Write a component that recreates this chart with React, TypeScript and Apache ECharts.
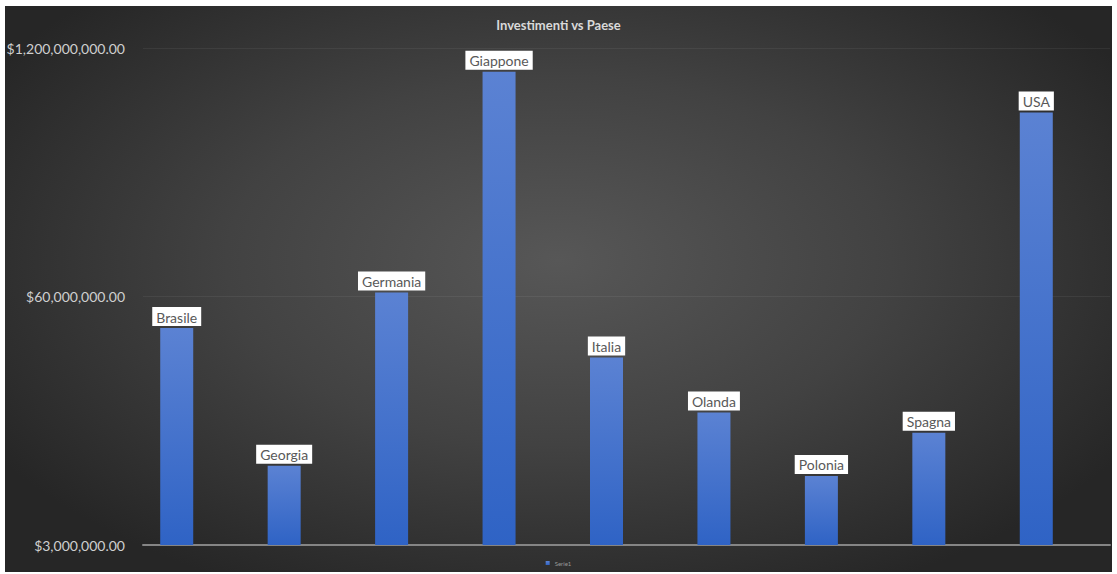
import React, { useEffect, useRef } from "react";
import * as echarts from "echarts";

const categories = ["Brasile", "Georgia", "Germania", "Giappone", "Italia", "Olanda", "Polonia", "Spagna", "USA"];
const values = [41000000, 7800000, 63000000, 900000000, 28800000, 14800000, 6900000, 11600000, 552000000];
const tickLabels = ["$3,000,000.00", "$60,000,000.00", "$1,200,000,000.00"];
const axisMin = 3000000;
const axisMax = 1200000000;
const seriesName = "Serie1";
const title = "Investimenti vs Paese";

export default function App() {
  const ref = useRef<HTMLDivElement>(null);
  useEffect(() => {
    if (!ref.current) return;
    const chart = echarts.init(ref.current, undefined, { renderer: "svg" });
    const font = "Lato, 'Open Sans', sans-serif";
    chart.setOption({
      animation: false,
      backgroundColor: "transparent",
      title: {
        text: title,
        left: "center",
        top: 13,
        textStyle: { color: "#d9d9d9", fontSize: 13, fontWeight: "bold", fontFamily: font },
      },
      legend: {
        bottom: 3,
        left: "center",
        itemWidth: 4,
        itemHeight: 4,
        icon: "rect",
        itemGap: 4,
        textStyle: { color: "#9a9a9a", fontSize: 6, fontFamily: font },
        data: [seriesName],
      },
      grid: [
        { left: 123, right: 27, top: 48, bottom: 29 },
        { left: 143, right: 7, top: 48, bottom: 29 },
      ],
      xAxis: [
        {
          type: "category",
          gridIndex: 0,
          data: categories,
          axisLine: { show: false },
          axisTick: { show: false },
          axisLabel: { show: false },
        },
        {
          type: "value",
          gridIndex: 1,
          min: 0,
          max: 1,
          axisLine: { show: true, onZero: false, lineStyle: { color: "#858585", width: 2 } },
          axisTick: { show: false },
          axisLabel: { show: false },
          splitLine: { show: false },
        },
      ],
      yAxis: [
        {
          type: "log",
          logBase: 20,
          gridIndex: 0,
          min: axisMin,
          max: axisMax,
          axisLine: { show: false },
          axisTick: { show: false },
          axisLabel: { show: false },
          splitLine: { show: false },
        },
        {
          type: "value",
          gridIndex: 1,
          min: 0,
          max: tickLabels.length - 1,
          interval: 1,
          axisLine: { show: false },
          axisTick: { show: false },
          axisLabel: {
            margin: 18,
            color: "#cfcfcf",
            fontSize: 14,
            fontFamily: font,
            formatter: (v: number) => tickLabels[Math.round(v)] ?? "",
          },
          splitLine: { show: true, lineStyle: { color: "rgba(255,255,255,0.06)", width: 1 } },
        },
      ],
      series: [
        {
          name: seriesName,
          type: "bar",
          xAxisIndex: 0,
          yAxisIndex: 0,
          data: values,
          barWidth: 33,
          clip: true,
          itemStyle: {
            color: new echarts.graphic.LinearGradient(0, 0, 0, 1, [
              { offset: 0, color: "#5b82d3" },
              { offset: 1, color: "#2f63c5" },
            ]),
          },
          label: {
            show: true,
            position: "top",
            distance: 2,
            formatter: "{b}",
            backgroundColor: "#ffffff",
            color: "#595959",
            fontSize: 14,
            fontFamily: font,
            padding: [3, 4, 2, 4],
          },
        },
      ],
    });
    return () => chart.dispose();
  }, []);

  return (
    <div style={{ position: "absolute", left: 0, top: 0, width: 1117, height: 574, background: "#ffffff", overflow: "hidden" }}>
      <div
        style={{
          position: "absolute",
          left: 5,
          top: 6,
          width: 1107,
          height: 566,
          background: "radial-gradient(ellipse 60% 65% at 50% 45%, #575757 0%, #424242 50%, #262626 100%)",
        }}
      />
      <div ref={ref} style={{ position: "absolute", left: 0, top: 0, width: 1117, height: 574 }} />
    </div>
  );
}
